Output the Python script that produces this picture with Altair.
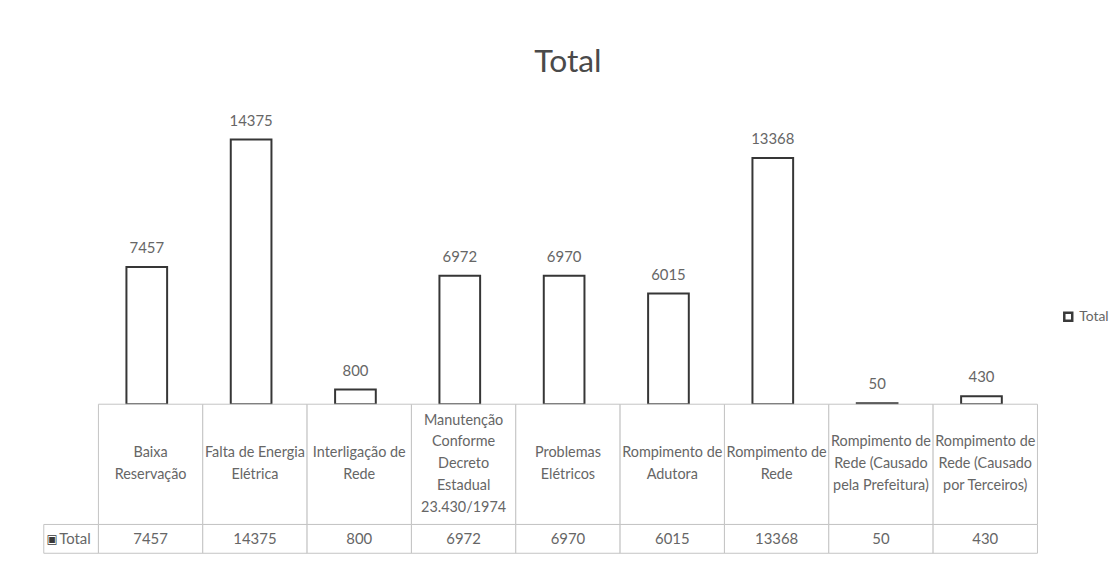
import altair as alt
import pandas as pd

# ---- data ----
categories = [
    "Baixa Reservação",
    "Falta de Energia Elétrica",
    "Interligação de Rede",
    "Manutenção Conforme Decreto Estadual 23.430/1974",
    "Problemas Elétricos",
    "Rompimento de Adutora",
    "Rompimento de Rede",
    "Rompimento de Rede (Causado pela Prefeitura)",
    "Rompimento de Rede (Causado por Terceiros)",
]
category_lines = [
    "Baixa\nReservação",
    "Falta de Energia\nElétrica",
    "Interligação de\nRede",
    "Manutenção\nConforme\nDecreto\nEstadual\n23.430/1974",
    "Problemas\nElétricos",
    "Rompimento de\nAdutora",
    "Rompimento de\nRede",
    "Rompimento de\nRede (Causado\npela Prefeitura)",
    "Rompimento de\nRede (Causado\npor Terceiros)",
]
values = [7457, 14375, 800, 6972, 6970, 6015, 13368, 50, 430]
series_name = "Total"
chart_title = "Total"

df = pd.DataFrame({
    "cat": categories,
    "label": category_lines,
    "nlines": [s.count("\n") + 1 for s in category_lines],
    "value": values,
    "series": [series_name] * len(categories),
})
df_leg = pd.DataFrame({"series": [series_name]})

FONT = "Lato"
TXT = "#666666"
GRID = "#c4c4c4"
W = 945
LEFT_W = 55
H_BARS = 278
H_HEAD = 121
H_VAL = 29
LINE_H = 22

base = alt.Chart(df)

x_bar = alt.X("cat:N", sort=categories, axis=None,
              scale=alt.Scale(paddingInner=0.61, paddingOuter=0.305, align=0.44))
y_bar = alt.Y("value:Q", axis=None, scale=alt.Scale(domain=[0, 15000], nice=False))

bars = base.mark_bar(stroke="#363636", strokeWidth=2).encode(
    x=x_bar,
    y=y_bar,
    fill=alt.Fill("series:N", scale=alt.Scale(range=["white"]),
                  legend=alt.Legend(title=None, orient="none", legendX=1024, legendY=183,
                                    padding=0, symbolType="square", symbolSize=64,
                                    symbolStrokeColor="#3a3a3a", symbolStrokeWidth=2.5,
                                    symbolFillColor="#b0b0b0",
                                    labelFont=FONT, labelFontSize=14, labelColor=TXT,
                                    labelOffset=4)),
)
bar_labels = base.mark_text(dy=-14, baseline="alphabetic", font=FONT, fontSize=15,
                            color=TXT).encode(x=x_bar, y=y_bar, text="value:Q")

bar_chart = alt.layer(bars, bar_labels).properties(
    width=W, height=H_BARS,
    title=alt.TitleParams(chart_title, font=FONT, fontSize=32, fontWeight="normal",
                          color="#4a4a4a", anchor="middle", frame="group",
                          baseline="alphabetic", offset=10),
)

x_tab = alt.X("cat:N", sort=categories, axis=None,
              scale=alt.Scale(paddingInner=0, paddingOuter=0))

# first line of each multi-line label is raised so that the block stays centred
mid = H_HEAD / 2
y_lines = alt.Y("nlines:Q", axis=None,
                scale=alt.Scale(domain=[1, 5], range=[mid, mid - 4 * LINE_H / 2],
                                nice=False, zero=False))

head_rect = base.mark_rect(fill="white", stroke=GRID, strokeWidth=1).encode(x=x_tab)
head_text = base.mark_text(lineBreak="\n", lineHeight=LINE_H, font=FONT, fontSize=14.5,
                           color=TXT, baseline="middle").encode(
    x=x_tab, y=y_lines, text="label:N")
header = alt.layer(head_rect, head_text).properties(width=W, height=H_HEAD)

val_rect = base.mark_rect(fill="white", stroke=GRID, strokeWidth=1).encode(x=x_tab)
val_text = base.mark_text(font=FONT, fontSize=15, color=TXT, baseline="middle").encode(
    x=x_tab, text="value:Q")
value_row = alt.layer(val_rect, val_text).properties(width=W, height=H_VAL)

x_leg = alt.X("series:N", axis=None, scale=alt.Scale(paddingInner=0, paddingOuter=0))
leg_base = alt.Chart(df_leg)
leg_rect = leg_base.mark_rect(fill="white", stroke=GRID, strokeWidth=1).encode(x=x_leg)
leg_sym = leg_base.mark_text(text="▣", dx=-19, font="DejaVu Sans", fontSize=12,
                             color="#3a3a3a", baseline="middle").encode(x=x_leg)
leg_txt = leg_base.mark_text(align="left", dx=-12, font=FONT, fontSize=15, color=TXT,
                             baseline="middle").encode(x=x_leg, text="series:N")
legend_cell = alt.layer(leg_rect, leg_sym, leg_txt).properties(
    width=LEFT_W, height=H_VAL)


def spacer(h):
    return leg_base.mark_rect(opacity=0).encode(x=x_leg).properties(width=LEFT_W, height=h)


chart = alt.concat(
    spacer(H_BARS), bar_chart,
    spacer(H_HEAD), header,
    legend_cell, value_row,
    columns=2, spacing=0,
).properties(
    align="each", bounds="flush",
    padding={"left": 35, "top": 36, "right": 0, "bottom": 0},
).configure_view(stroke=None)

chart.save("out.html", embed_options={"renderer": "svg", "actions": False})
